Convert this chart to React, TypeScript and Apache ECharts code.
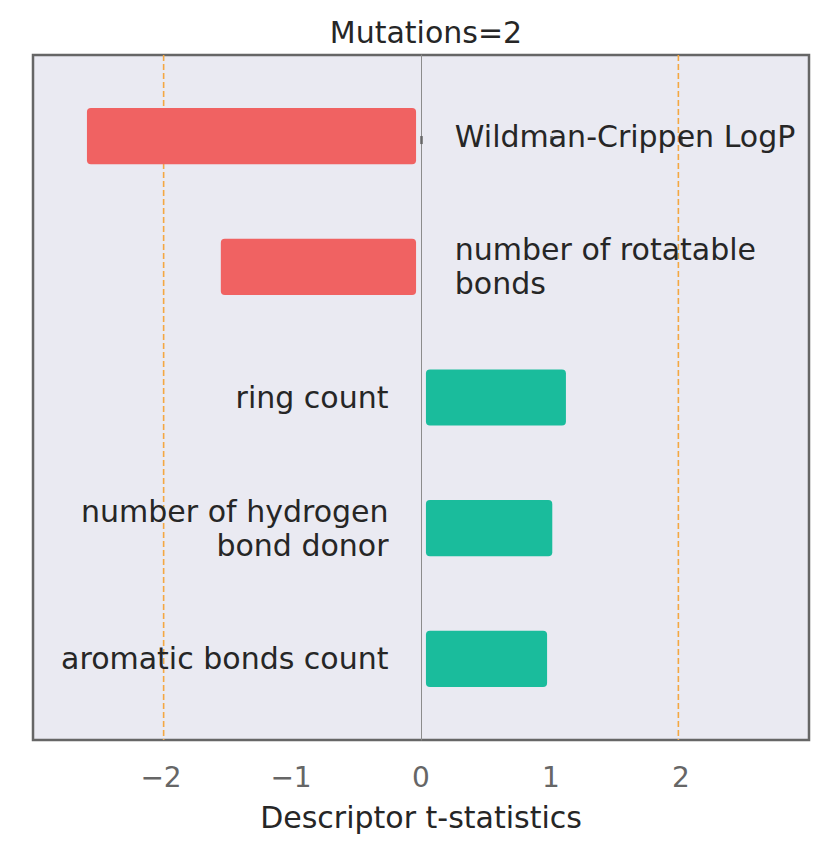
import React, { useEffect, useRef } from "react";
import * as echarts from "echarts";

const descriptors = [
  "Wildman-Crippen LogP",
  "number of rotatable\nbonds",
  "ring count",
  "number of hydrogen\nbond donor",
  "aromatic bonds count",
];
const tStats = [-2.57, -1.54, 1.115, 1.01, 0.97];
const xTicks = [-2, -1, 0, 1, 2];
const thresholds = [-1.98, 1.98];
const yRange = [-0.62, 4.62];

const FONT = "DejaVu Sans";

export default function App() {
  const ref = useRef<HTMLDivElement>(null);
  useEffect(() => {
    document.body.style.margin = "0";
    const chart = echarts.init(ref.current!, undefined, { renderer: "svg" });
    const data = tStats.map((v, i) => [v, i]);
    chart.setOption({
      animation: false,
      backgroundColor: "#ffffff",
      title: {
        text: "Mutations=2",
        left: 421,
        textAlign: "center",
        top: 12,
        textStyle: { fontFamily: FONT, fontSize: 30, fontWeight: "normal", color: "#262626" },
      },
      grid: {
        left: 33,
        right: 18,
        top: 55,
        bottom: 109,
        show: true,
        backgroundColor: "#eaeaf2",
        borderColor: "#666666",
        borderWidth: 2.5,
      },
      xAxis: {
        type: "value",
        min: -2.985,
        max: 2.985,
        splitLine: { show: false },
        axisLine: { show: false },
        axisTick: {
          show: true,
          customValues: xTicks,
          length: 8,
          lineStyle: { color: "#666666", width: 2.5 },
        },
        axisLabel: {
          customValues: xTicks,
          margin: 23,
          fontFamily: FONT,
          fontSize: 28,
          color: "#666666",
          formatter: (v: number) => String(v).replace("-", "\u2212"),
        },
        name: "Descriptor t-statistics",
        nameLocation: "middle",
        nameGap: 62,
        nameTextStyle: { fontFamily: FONT, fontSize: 30, color: "#262626" },
      },
      yAxis: {
        type: "value",
        min: yRange[0],
        max: yRange[1],
        inverse: true,
        show: true,
        splitLine: { show: false },
        axisTick: { show: false },
        axisLabel: { show: false },
        axisLine: { show: true, onZero: true, lineStyle: { color: "#8c8c8c", width: 1 } },
      },
      series: [
        {
          type: "custom",
          data: thresholds.map((t) => [t, 0]),
          encode: { x: 0, y: 1 },
          silent: true,
          renderItem: (params: any, api: any) => {
            const t = api.value(0) as number;
            const a = api.coord([t, yRange[0]]);
            const b = api.coord([t, yRange[1]]);
            return {
              type: "line",
              shape: { x1: a[0], y1: a[1], x2: b[0], y2: b[1] },
              style: { stroke: "#f4a742", lineWidth: 1.6, lineDash: [6, 3] },
            };
          },
        },
        {
          type: "custom",
          data,
          encode: { x: 0, y: 1 },
          silent: true,
          renderItem: (params: any, api: any) => {
            const v = api.value(0) as number;
            const idx = api.value(1) as number;
            const gap = 0.038;
            const s = api.coord([v < 0 ? -gap : gap, idx]);
            const e = api.coord([v, idx]);
            const h = api.size([0, 0.43])[1];
            const x0 = Math.min(s[0], e[0]);
            const w = Math.abs(e[0] - s[0]);
            return {
              type: "rect",
              shape: { x: x0, y: s[1] - h / 2, width: w, height: h, r: 4 },
              style: { fill: v < 0 ? "#f06262" : "#1abc9c" },
            };
          },
        },
        {
          type: "custom",
          data,
          encode: { x: 0, y: 1 },
          silent: true,
          renderItem: (params: any, api: any) => {
            const v = api.value(0) as number;
            const idx = api.value(1) as number;
            const p = api.coord([v < 0 ? 0.26 : -0.25, idx]);
            return {
              type: "text",
              x: p[0],
              y: p[1],
              style: {
                text: descriptors[idx],
                fontFamily: FONT,
                fontSize: 30,
                fill: "#262626",
                align: v < 0 ? "left" : "right",
                verticalAlign: "middle",
                lineHeight: 34,
              },
            };
          },
        },
      ],
    });
    return () => chart.dispose();
  }, []);
  return <div ref={ref} style={{ width: 827, height: 849 }} />;
}
